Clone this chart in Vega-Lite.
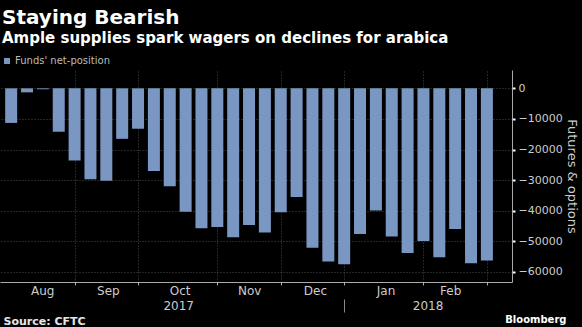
{
  "$schema": "https://vega.github.io/schema/vega-lite/v6.json",
  "width": 512,
  "height": 212,
  "autosize": {"type": "none"},
  "padding": {"left": 0, "top": 70, "right": 70, "bottom": 45},
  "background": "#000000",
  "view": {"stroke": null},
  "title": {
    "text": "Staying Bearish",
    "subtitle": "Ample supplies spark wagers on declines for arabica",
    "anchor": "start",
    "frame": "group",
    "offset": 10,
    "dx": 2,
    "font": "DejaVu Sans",
    "fontSize": 20,
    "fontWeight": "bold",
    "color": "#ffffff",
    "subtitleFont": "DejaVu Sans",
    "subtitleFontSize": 15,
    "subtitleFontWeight": "bold",
    "subtitleColor": "#ffffff",
    "subtitlePadding": 3
  },
  "data": {
    "values": [
      {"date": "2017-08-08", "net": -11300},
      {"date": "2017-08-15", "net": -1300},
      {"date": "2017-08-22", "net": -300},
      {"date": "2017-08-29", "net": -14200},
      {"date": "2017-09-05", "net": -23600},
      {"date": "2017-09-12", "net": -29700},
      {"date": "2017-09-19", "net": -30200},
      {"date": "2017-09-26", "net": -16500},
      {"date": "2017-10-03", "net": -13200},
      {"date": "2017-10-10", "net": -27000},
      {"date": "2017-10-17", "net": -32000},
      {"date": "2017-10-24", "net": -40300},
      {"date": "2017-10-31", "net": -45700},
      {"date": "2017-11-07", "net": -45300},
      {"date": "2017-11-14", "net": -48700},
      {"date": "2017-11-21", "net": -44700},
      {"date": "2017-11-28", "net": -47100},
      {"date": "2017-12-05", "net": -40500},
      {"date": "2017-12-12", "net": -35500},
      {"date": "2017-12-19", "net": -52100},
      {"date": "2017-12-26", "net": -56600},
      {"date": "2018-01-02", "net": -57500},
      {"date": "2018-01-09", "net": -47600},
      {"date": "2018-01-16", "net": -39900},
      {"date": "2018-01-23", "net": -48400},
      {"date": "2018-01-30", "net": -53800},
      {"date": "2018-02-06", "net": -49900},
      {"date": "2018-02-13", "net": -55200},
      {"date": "2018-02-20", "net": -46000},
      {"date": "2018-02-27", "net": -57200},
      {"date": "2018-03-06", "net": -56300}
    ]
  },
  "layer": [
    {
      "mark": {"type": "bar", "width": 12},
      "encoding": {
        "x": {
          "field": "date",
          "type": "temporal",
          "scale": {
            "type": "utc",
            "domain": [
              {"year": 2017, "month": 8, "date": 5, "hours": 6, "minutes": 33, "utc": true},
              {"year": 2018, "month": 3, "date": 14, "hours": 21, "utc": true}
            ]
          },
          "axis": {
            "orient": "bottom",
            "values": [
              {"year": 2017, "month": 8, "date": 21, "hours": 17, "utc": true},
              {"year": 2017, "month": 9, "date": 19, "hours": 17, "utc": true},
              {"year": 2017, "month": 10, "date": 21, "hours": 8, "utc": true},
              {"year": 2017, "month": 11, "date": 21, "hours": 1, "utc": true},
              {"year": 2017, "month": 12, "date": 20, "hours": 2, "utc": true},
              {"year": 2018, "month": 1, "date": 20, "hours": 6, "utc": true},
              {"year": 2018, "month": 2, "date": 17, "hours": 19, "utc": true}
            ],
            "format": "%b",
            "ticks": false,
            "grid": false,
            "domain": false,
            "labelPadding": 3,
            "labelFont": "DejaVu Sans",
            "labelFontSize": 12,
            "labelColor": "#cccccc",
            "labelFlush": false,
            "labelOverlap": false,
            "title": "Source: CFTC",
            "titleX": 3,
            "titleY": 39,
            "titleAlign": "left",
            "titleAnchor": "start",
            "titleBaseline": "middle",
            "titleAngle": 0,
            "titleFont": "DejaVu Sans",
            "titleFontSize": 11,
            "titleFontWeight": "bold",
            "titleColor": "#e6e6e6"
          }
        },
        "y": {
          "field": "net",
          "type": "quantitative",
          "scale": {"domain": [-63300, 6000], "nice": false, "zero": false},
          "axis": {
            "orient": "right",
            "values": [0, -10000, -20000, -30000, -40000, -50000, -60000],
            "format": "d",
            "grid": true,
            "gridColor": "#4a4a4a",
            "gridDash": [1, 2],
            "domainColor": "#aaaaaa",
            "tickColor": "#ffffff",
            "tickSize": 3,
            "tickWidth": 2,
            "labelPadding": 3,
            "labelFont": "DejaVu Sans",
            "labelFontSize": 11,
            "labelColor": "#cccccc",
            "title": "Futures & options",
            "titleFont": "DejaVu Sans",
            "titleFontSize": 13,
            "titleFontWeight": "normal",
            "titleColor": "#cccccc",
            "titleAngle": 90,
            "titlePadding": 2
          }
        },
        "color": {
          "datum": "Funds' net-position",
          "type": "nominal",
          "scale": {"range": ["#7a97c3"]},
          "legend": {
            "orient": "none",
            "legendX": 2,
            "legendY": -14,
            "title": null,
            "symbolType": "square",
            "symbolSize": 36,
            "symbolStrokeWidth": 0,
            "labelFont": "DejaVu Sans",
            "labelFontSize": 10,
            "labelColor": "#bbbbbb",
            "labelOffset": 3
          }
        }
      }
    },
    {
      "mark": {"type": "rule", "opacity": 0},
      "encoding": {
        "x": {
          "field": "date",
          "type": "temporal",
          "scale": {
            "type": "utc",
            "domain": [
              {"year": 2017, "month": 8, "date": 5, "hours": 6, "minutes": 33, "utc": true},
              {"year": 2018, "month": 3, "date": 14, "hours": 21, "utc": true}
            ]
          },
          "axis": {
            "orient": "bottom",
            "values": [
              {"year": 2017, "month": 9, "date": 5, "utc": true},
              {"year": 2017, "month": 10, "date": 3, "utc": true},
              {"year": 2017, "month": 11, "date": 7, "utc": true},
              {"year": 2017, "month": 12, "date": 5, "utc": true},
              {"year": 2018, "month": 1, "date": 2, "utc": true},
              {"year": 2018, "month": 2, "date": 6, "utc": true},
              {"year": 2018, "month": 3, "date": 6, "utc": true}
            ],
            "labels": false,
            "grid": true,
            "gridColor": "#4a4a4a",
            "gridDash": [1, 2],
            "ticks": true,
            "tickSize": 3,
            "tickColor": "#aaaaaa",
            "domain": true,
            "domainColor": "#aaaaaa",
            "title": null
          }
        }
      }
    },
    {
      "mark": {"type": "rule", "opacity": 0},
      "encoding": {
        "x": {
          "field": "date",
          "type": "temporal",
          "scale": {
            "type": "utc",
            "domain": [
              {"year": 2017, "month": 8, "date": 5, "hours": 6, "minutes": 33, "utc": true},
              {"year": 2018, "month": 3, "date": 14, "hours": 21, "utc": true}
            ]
          },
          "axis": {
            "orient": "bottom",
            "values": [
              {"year": 2017, "month": 10, "date": 20, "hours": 17, "utc": true},
              {"year": 2018, "month": 2, "date": 7, "hours": 20, "utc": true}
            ],
            "format": "%Y",
            "ticks": false,
            "grid": false,
            "domain": false,
            "labelPadding": 18,
            "labelFont": "DejaVu Sans",
            "labelFontSize": 12,
            "labelColor": "#cccccc",
            "labelFlush": false,
            "title": "Bloomberg",
            "titleX": 566,
            "titleY": 37,
            "titleAlign": "right",
            "titleAnchor": "end",
            "titleBaseline": "middle",
            "titleAngle": 0,
            "titleFont": "DejaVu Sans",
            "titleFontSize": 10,
            "titleFontWeight": "bold",
            "titleColor": "#ffffff"
          }
        }
      }
    },
    {
      "mark": {"type": "rule", "opacity": 0},
      "encoding": {
        "x": {
          "field": "date",
          "type": "temporal",
          "scale": {
            "type": "utc",
            "domain": [
              {"year": 2017, "month": 8, "date": 5, "hours": 6, "minutes": 33, "utc": true},
              {"year": 2018, "month": 3, "date": 14, "hours": 21, "utc": true}
            ]
          },
          "axis": {
            "orient": "bottom",
            "offset": 17,
            "values": [
              {"year": 2018, "month": 1, "date": 2, "utc": true}
            ],
            "labels": false,
            "grid": false,
            "domain": false,
            "ticks": true,
            "tickSize": 13,
            "tickColor": "#888888",
            "title": null
          }
        }
      }
    }
  ],
  "resolve": {"axis": {"x": "independent"}}
}
